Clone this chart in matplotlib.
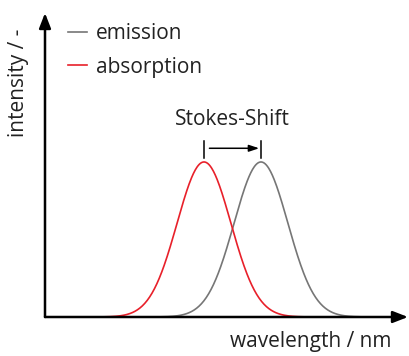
import numpy as np
import matplotlib.pyplot as plt

# schematic spectra: peak position, width and height (arbitrary units)
series = ["emission", "absorption"]
centers = [5.95, 4.38]
widths = [0.74, 0.74]
heights = [0.51, 0.51]
x_ranges = [(2.62, 9.23), (1.02, 7.71)]
colors = ["#767676", "#e8202a"]

plt.rcParams["font.family"] = ["Open Sans", "DejaVu Sans"]
FS = 15
TXT = "#222222"

fig = plt.figure(figsize=(4.09, 3.56), dpi=100)
ax = fig.add_axes([45 / 409, 39 / 356, 363 / 409, 304 / 356])
ax.set_xlim(0, 10)
ax.set_ylim(0, 1)
for s in ax.spines.values():
    s.set_visible(False)
ax.set_xticks([])
ax.set_yticks([])

for name, c, w, h, (x0, x1), col in zip(series, centers, widths, heights, x_ranges, colors):
    x = np.linspace(x0, x1, 400)
    y = h * np.exp(-(x - c) ** 2 / (2 * w ** 2))
    ax.plot(x, y, color=col, lw=1.2, label=name, clip_on=False)

# axes with arrow heads
arrow = dict(arrowstyle="-|>,head_length=0.9,head_width=0.35", color="black", lw=1.8,
             shrinkA=0, shrinkB=0)
ax.annotate("", xy=(10, 0), xytext=(0, 0), arrowprops=arrow, annotation_clip=False)
ax.annotate("", xy=(0, 1), xytext=(0, 0), arrowprops=arrow, annotation_clip=False)

# Stokes shift marker
top = heights[0]
ax.plot([centers[1], centers[1]], [top + 0.012, top + 0.07], color="black", lw=1.1)
ax.plot([centers[0], centers[0]], [top + 0.012, top + 0.07], color="black", lw=1.1)
ax.annotate("", xy=(centers[0] - 0.05, top + 0.045), xytext=(centers[1] + 0.15, top + 0.045),
            arrowprops=dict(arrowstyle="-|>,head_length=0.6,head_width=0.2", color="black",
                            lw=1.1, shrinkA=0, shrinkB=0))
ax.text((centers[0] + centers[1]) / 2, top + 0.14, "Stokes-Shift", ha="center",
        va="center", fontsize=FS, color=TXT)

ax.set_xlabel("wavelength / nm", fontsize=FS, color=TXT)
ax.xaxis.set_label_coords(0.953, -0.08)
ax.xaxis.label.set_ha("right")
ax.xaxis.label.set_va("center")
ax.set_ylabel("intensity / -", fontsize=FS, color=TXT)
ax.yaxis.set_label_coords(-0.074, 0.77)
ax.yaxis.label.set_va("center")

ax.legend(loc="upper left", bbox_to_anchor=(0.04, 0.995), frameon=False, fontsize=FS,
          handlelength=0.9, handletextpad=0.45, labelspacing=0.62, borderaxespad=0,
          labelcolor=TXT)

fig.savefig("out.png", dpi=100)
